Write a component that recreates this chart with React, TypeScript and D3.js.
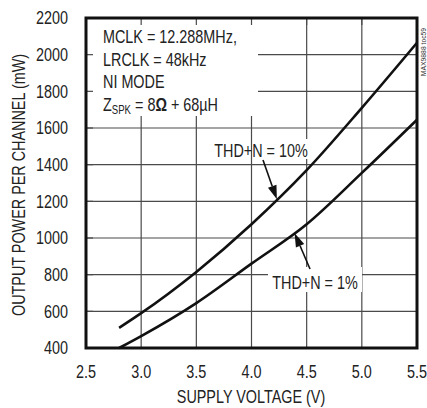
import React from 'react';
import * as d3 from 'd3';

const W = 427;
const H = 408;

// supply voltage (V) vs output power per channel (mW)
const voltage = [2.8, 3.0, 3.5, 4.0, 4.5, 5.0, 5.5];
const thd10 = [510, 590, 815, 1075, 1370, 1710, 2065];
const thd1 = [400, 465, 645, 860, 1075, 1355, 1645];

const xTicks = [2.5, 3.0, 3.5, 4.0, 4.5, 5.0, 5.5];
const yTicks = [400, 600, 800, 1000, 1200, 1400, 1600, 1800, 2000, 2200];

const conditions = ['MCLK = 12.288MHz,', 'LRCLK = 48kHz', 'NI MODE'];

const FONT = "'Liberation Sans', Arial, sans-serif";
const SX = 0.8; // squeeze to look like a condensed face

const margin = { top: 18, right: 10, bottom: 60, left: 86 };

// value of a series at voltage v (linear between read points)
const valueAt = (series: number[], v: number) => {
  const i = Math.max(1, d3.bisectLeft(voltage, v));
  const t = (v - voltage[i - 1]) / (voltage[i] - voltage[i - 1]);
  return series[i - 1] + t * (series[i] - series[i - 1]);
};

const NText: React.FC<{
  x: number;
  y: number;
  anchor?: string;
  rotate?: number;
  dy?: string;
  children: React.ReactNode;
}> = ({ x, y, anchor = 'start', rotate = 0, dy, children }) => (
  <text
    transform={`translate(${x},${y}) rotate(${rotate}) scale(${SX},1)`}
    textAnchor={anchor}
    dy={dy}
  >
    {children}
  </text>
);

const Arrow: React.FC<{ x1: number; y1: number; x2: number; y2: number }> = ({ x1, y1, x2, y2 }) => {
  const a = Math.atan2(y2 - y1, x2 - x1);
  const len = 14;
  const hw = 4.5;
  const bx = x2 - len * Math.cos(a);
  const by = y2 - len * Math.sin(a);
  const px = -Math.sin(a) * hw;
  const py = Math.cos(a) * hw;
  return (
    <g>
      <line x1={x1} y1={y1} x2={bx} y2={by} stroke="#111" strokeWidth={1.6} />
      <polygon points={`${x2},${y2} ${bx + px},${by + py} ${bx - px},${by - py}`} fill="#111" />
    </g>
  );
};

export default function App() {
  const x = d3.scaleLinear().domain([2.5, 5.5]).range([margin.left, W - margin.right]);
  const y = d3.scaleLinear().domain([400, 2200]).range([H - margin.bottom, margin.top]);

  const line = d3
    .line<number>()
    .x((_, i) => x(voltage[i]))
    .y((d) => y(d))
    .curve(d3.curveMonotoneX);

  const x0 = x(2.5), x1 = x(5.5), y0 = y(400), y1 = y(2200);

  // arrow tips sit on the curves
  const tip10 = { x: x(4.23), y: y(valueAt(thd10, 4.23)) };
  const tip1 = { x: x(4.39), y: y(valueAt(thd1, 4.39)) };

  return (
    <svg width={W} height={H} style={{ position: 'absolute', left: 0, top: 0, background: '#fff' }} fontFamily={FONT}>
      {/* grid */}
      <g stroke="#4a4a4a" strokeWidth={1.2}>
        {xTicks.slice(1, -1).map((t) => (
          <line key={'gx' + t} x1={x(t)} x2={x(t)} y1={y1} y2={y0} />
        ))}
        {yTicks.slice(1, -1).map((t) => (
          <line key={'gy' + t} x1={x0} x2={x1} y1={y(t)} y2={y(t)} />
        ))}
      </g>

      {/* white boxes behind text */}
      <rect x={x0} y={y1} width={172} height={98} fill="#fff" />
      <rect x={290} y={139} width={22} height={20} fill="#fff" />
      <rect x={268} y={267} width={94} height={25} fill="#fff" />

      {/* short edge ticks */}
      <g stroke="#4a4a4a" strokeWidth={1.2}>
        {xTicks.slice(1, -1).map((t) => (
          <line key={'tx' + t} x1={x(t)} x2={x(t)} y1={y1} y2={y1 + 7} />
        ))}
        {yTicks.slice(1, -1).map((t) => (
          <line key={'ty' + t} x1={x0} x2={x0 + 7} y1={y(t)} y2={y(t)} />
        ))}
      </g>

      {/* curves */}
      <path d={line(thd10) || ''} fill="none" stroke="#111" strokeWidth={2.6} />
      <path d={line(thd1) || ''} fill="none" stroke="#111" strokeWidth={2.6} />

      {/* frame */}
      <rect x={x0} y={y1} width={x1 - x0} height={y0 - y1} fill="none" stroke="#111" strokeWidth={3} />

      {/* annotations */}
      <g fontSize={18} fill="#222">
        {conditions.map((c, i) => (
          <NText key={c} x={103} y={43 + i * 22.5}>
            {c}
          </NText>
        ))}
        <NText x={103} y={110.5}>
          Z<tspan fontSize={12} dy={3}>SPK</tspan>
          <tspan dy={-3}> = 8</tspan>
          <tspan fontWeight="bold">Ω</tspan>
          <tspan> + 68µH</tspan>
        </NText>
        <NText x={261} y={157} anchor="middle">THD+N = 10%</NText>
        <NText x={315} y={289} anchor="middle">THD+N = 1%</NText>
      </g>
      <Arrow x1={263} y1={160} x2={tip10.x} y2={tip10.y} />
      <Arrow x1={310} y1={269} x2={tip1.x} y2={tip1.y} />

      {/* tick labels */}
      <g fontSize={18} fill="#222">
        {yTicks.map((t) => (
          <NText key={'ly' + t} x={68} y={y(t)} dy="0.36em" anchor="end">
            {t}
          </NText>
        ))}
        {xTicks.map((t) => (
          <NText key={'lx' + t} x={x(t)} y={378} anchor="middle">
            {t.toFixed(1)}
          </NText>
        ))}
        <NText x={251} y={403} anchor="middle">SUPPLY VOLTAGE (V)</NText>
        <NText x={25} y={185} rotate={-90} anchor="middle">
          OUTPUT POWER PER CHANNEL (mW)
        </NText>
      </g>

      <text
        transform={`translate(426,52) rotate(-90) scale(0.85,1)`}
        textAnchor="middle"
        fontSize={8}
        fill="#333"
      >
        MAX9888 toc59
      </text>
    </svg>
  );
}
